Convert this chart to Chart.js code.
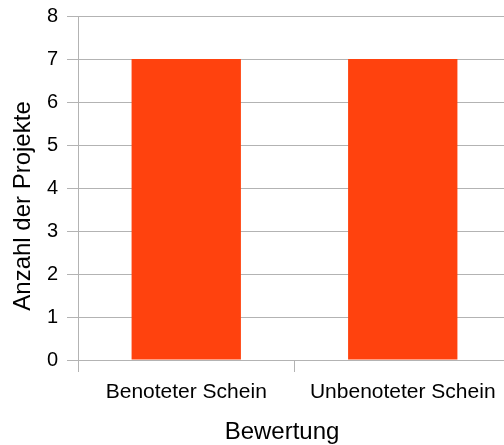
<!DOCTYPE html>
<html>
<head>
<meta charset="utf-8">
<script src="https://cdn.jsdelivr.net/npm/chart.js@4/dist/chart.umd.min.js"></script>
<style>
  html, body { margin: 0; padding: 0; background: #fff; overflow: hidden; width: 504px; height: 445px; }
  #wrap { position: relative; width: 512px; height: 445px; }
</style>
</head>
<body>
<div id="wrap"><canvas id="c" width="512" height="445"></canvas></div>
<script>
// Projects per grading type
const categories = ['Benoteter Schein', 'Unbenoteter Schein'];
const projectCounts = [7, 7];
const yMin = 0;
const yMax = 8;
const yStep = 1;
const xTitle = 'Bewertung';
const yTitle = 'Anzahl der Projekte';

const FONT = '"Liberation Sans", Arial, sans-serif';
const GRID = '#b3b3b3';

// Axis titles drawn relative to the plot area
const axisTitles = {
  id: 'axisTitles',
  afterDraw(chart) {
    const { ctx, chartArea } = chart;
    ctx.save();
    ctx.fillStyle = '#000';
    ctx.font = '24px ' + FONT;
    ctx.textAlign = 'center';
    ctx.textBaseline = 'middle';
    // vertical title
    ctx.save();
    ctx.translate(23, (chartArea.top + chartArea.bottom) / 2 + 18);
    ctx.rotate(-Math.PI / 2);
    ctx.fillText(yTitle, 0, 0);
    ctx.restore();
    // horizontal title
    ctx.textBaseline = 'alphabetic';
    ctx.fillText(xTitle, 282, 439);
    ctx.restore();
  }
};

new Chart(document.getElementById('c'), {
  type: 'bar',
  data: {
    labels: categories,
    datasets: [{
      data: projectCounts,
      backgroundColor: '#ff420e',
      borderWidth: 0,
      categoryPercentage: 1.0,
      barPercentage: 0.505
    }]
  },
  options: {
    responsive: false,
    animation: false,
    layout: { padding: { top: 16, right: 1, left: 0, bottom: 0 } },
    plugins: {
      legend: { display: false },
      tooltip: { enabled: false }
    },
    scales: {
      x: {
        grid: {
          offset: true,
          drawOnChartArea: false,
          drawTicks: true,
          tickLength: 12,
          color: GRID,
          lineWidth: 1
        },
        border: { display: true, color: GRID, width: 1 },
        ticks: {
          color: '#000',
          font: { family: FONT, size: 21 },
          padding: 8,
          maxRotation: 0,
          autoSkip: false
        },
        afterFit(scale) {
          scale.height = 85;
          scale.paddingLeft = 0;
          scale.paddingRight = 0;
        }
      },
      y: {
        min: yMin,
        max: yMax,
        grid: {
          color: GRID,
          lineWidth: 1,
          tickLength: 11,
          drawTicks: true
        },
        border: { display: true, color: GRID, width: 1 },
        ticks: {
          stepSize: yStep,
          color: '#000',
          font: { family: FONT, size: 20 },
          padding: 9
        },
        afterFit(scale) {
          scale.width = 78;
          scale.paddingTop = 0;
          scale.paddingBottom = 0;
        }
      }
    }
  },
  plugins: [axisTitles]
});
</script>
</body>
</html>
